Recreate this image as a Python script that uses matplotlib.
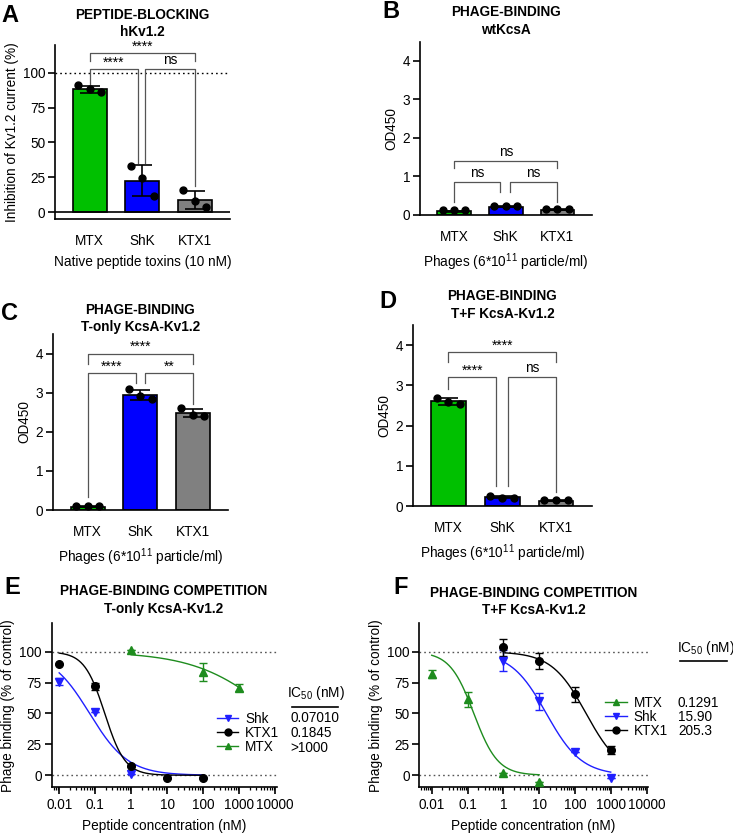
import numpy as np
import matplotlib
matplotlib.use("Agg")
import matplotlib.pyplot as plt
from matplotlib.lines import Line2D
from matplotlib.ticker import FixedLocator, LogLocator, NullFormatter

plt.rcParams["font.family"] = ["Liberation Sans", "DejaVu Sans"]
plt.rcParams["font.size"] = 9.8
plt.rcParams["axes.linewidth"] = 1.2
plt.rcParams["mathtext.fontset"] = "custom"
plt.rcParams["mathtext.rm"] = "Liberation Sans"
plt.rcParams["mathtext.it"] = "Liberation Sans:italic"
plt.rcParams["mathtext.bf"] = "Liberation Sans:bold"

W, H = 733, 834

TOXINS = ["MTX", "ShK", "KTX1"]
BAR_COLORS = ["#00c000", "#0000ff", "#808080"]

# A: peptide blocking of hKv1.2 (% inhibition)
A_MEAN = [88.2, 22.6, 8.6]
A_SD = [2.4, 11.2, 6.4]
A_POINTS = [[91.1, 88.7, 86.3], [32.9, 24.5, 11.3], [15.6, 7.7, 3.6]]

# B: phage binding, wtKcsA (OD450)
B_MEAN = [0.10, 0.22, 0.14]
B_SD = [0.01, 0.01, 0.01]
B_POINTS = [[0.12, 0.12, 0.12], [0.24, 0.24, 0.24], [0.15, 0.15, 0.15]]

# C: phage binding, T-only KcsA-Kv1.2 (OD450)
C_MEAN = [0.08, 2.95, 2.48]
C_SD = [0.01, 0.13, 0.11]
C_POINTS = [[0.10, 0.10, 0.10], [3.09, 2.92, 2.85], [2.61, 2.44, 2.41]]

# D: phage binding, T+F KcsA-Kv1.2 (OD450)
D_MEAN = [2.60, 0.22, 0.13]
D_SD = [0.09, 0.02, 0.01]
D_POINTS = [[2.69, 2.58, 2.54], [0.26, 0.21, 0.21], [0.15, 0.15, 0.15]]

CONC_TICKS = [0.01, 0.1, 1, 10, 100, 1000, 10000]
CONC_LABELS = ["0.01", "0.1", "1", "10", "100", "1000", "10000"]

# E: competition, T-only KcsA-Kv1.2 (% of control)
E_SHK_X = [0.01, 0.1, 1]
E_SHK_Y = [75.7, 51.4, 1.4]
E_SHK_ERR = [3.0, 0.0, 0.0]
E_KTX1_X = [0.01, 0.1, 1, 10, 100]
E_KTX1_Y = [90.0, 72.2, 7.3, -1.9, -1.9]
E_KTX1_ERR = [0.0, 2.8, 0.0, 0.0, 0.0]
E_MTX_X = [1, 100, 1000]
E_MTX_Y = [101.4, 83.8, 70.8]
E_MTX_ERR = [0.0, 7.4, 3.0]

# F: competition, T+F KcsA-Kv1.2 (% of control)
F_MTX_X = [0.01, 0.1, 1, 10]
F_MTX_Y = [81.9, 61.4, 1.6, -5.1]
F_MTX_ERR = [3.3, 6.2, 0.0, 0.0]
F_SHK_X = [1, 10, 100, 1000]
F_SHK_Y = [92.6, 59.8, 18.9, -1.9]
F_SHK_ERR = [8.6, 6.6, 0.0, 0.0]
F_KTX1_X = [1, 10, 100, 1000]
F_KTX1_Y = [103.7, 92.6, 65.4, 20.7]
F_KTX1_ERR = [6.8, 6.6, 6.1, 3.3]

# fitted dose-response parameters: (IC50, Hill slope, x from, x to)
E_FITS = {"Shk": (0.0701, 0.81, 0.01, 100), "KTX1": (0.1845, 1.54, 0.01, 100),
          "MTX": (9400.0, 0.40, 1, 1000)}
F_FITS = {"MTX": (0.15, 1.30, 0.01, 10), "Shk": (15.9, 0.88, 1, 1000),
          "KTX1": (205.3, 0.90, 1, 1000)}

E_IC50 = ["0.07010", "0.1845", ">1000"]
F_IC50 = ["0.1291", "15.90", "205.3"]

SERIES_STYLE = {
    "Shk": dict(color="#2020ff", marker="v"),
    "KTX1": dict(color="black", marker="o"),
    "MTX": dict(color="#1e8c1e", marker="^"),
}


def px_axes(fig, left, right, top, bottom):
    return fig.add_axes([left / W, 1 - bottom / H, (right - left) / W, (bottom - top) / H])


def fig_text(fig, x, y, s, **kw):
    fig.text(x / W, 1 - y / H, s, **kw)


def style_axes(ax):
    for side in ("top", "right"):
        ax.spines[side].set_visible(False)
    ax.tick_params(axis="y", length=5, width=1.2, pad=2)


def bracket(ax, x1, x2, y, y1, y2, label):
    ax.plot([x1, x1, x2, x2], [y1, y, y, y2], color="#555555", lw=0.9, zorder=1)
    if label == "ns":
        ax.annotate(label, ((x1 + x2) / 2, y), xytext=(0, 1.5), textcoords="offset points",
                    ha="center", va="bottom", fontsize=9.8)
    else:
        ax.annotate(label, ((x1 + x2) / 2, y), xytext=(0, -0.5), textcoords="offset points",
                    ha="center", va="bottom", fontsize=10)


def bar_panel(ax, means, sds, points, ylim, yticks, ylabel, xlabel):
    x = np.arange(len(TOXINS))
    ax.bar(x, means, width=0.65, color=BAR_COLORS, edgecolor="black", linewidth=1.2, zorder=2)
    ax.errorbar(x, means, yerr=sds, fmt="none", ecolor="black", elinewidth=1.2,
                capsize=7, capthick=1.2, zorder=3)
    for xi, pts in zip(x, points):
        ax.plot(xi + np.array([-0.22, 0.0, 0.22]), pts, "o", color="black", markersize=5, zorder=4)
    ax.set_xlim(-0.66, 2.67)
    ax.set_ylim(*ylim)
    ax.set_yticks(yticks)
    ax.set_xticks(x)
    ax.set_xticklabels(TOXINS)
    ax.tick_params(axis="x", length=0, pad=11)
    ax.set_ylabel(ylabel, labelpad=3)
    ax.set_xlabel(xlabel, labelpad=5)
    style_axes(ax)


def fit_curve(ic50, hill, x0, x1):
    xs = np.logspace(np.log10(x0), np.log10(x1), 200)
    return xs, 100.0 / (1.0 + (xs / ic50) ** hill)


def competition_panel(ax, data, fits, xlim):
    for name, (ic50, hill, x0, x1) in fits.items():
        st = SERIES_STYLE[name]
        xs, ys = fit_curve(ic50, hill, x0, x1)
        ax.plot(xs, ys, color=st["color"], lw=1.0, zorder=2)
    for name, (xv, yv, ev) in data.items():
        st = SERIES_STYLE[name]
        ax.errorbar(xv, yv, yerr=ev, fmt=st["marker"], color=st["color"], markersize=5.5,
                    elinewidth=1.0, capsize=3, capthick=1.0, zorder=3)
    for yref in (0, 100):
        ax.axhline(yref, color="#555555", lw=1.0, ls=(0, (1.2, 2.2)), zorder=1)
    ax.set_xscale("log")
    ax.set_xlim(*xlim)
    ax.set_ylim(-9.5, 123)
    ax.set_yticks([0, 25, 50, 75, 100])
    ax.xaxis.set_major_locator(FixedLocator(CONC_TICKS))
    ax.set_xticklabels(CONC_LABELS)
    ax.xaxis.set_minor_locator(LogLocator(base=10, subs=np.arange(2, 10), numticks=30))
    ax.xaxis.set_minor_formatter(NullFormatter())
    ax.tick_params(axis="x", which="major", length=5, width=1.2, pad=3)
    ax.tick_params(axis="x", which="minor", length=2.5, width=0.9)
    ax.set_ylabel("Phage binding (% of control)", labelpad=3)
    ax.set_xlabel("Peptide concentration (nM)", labelpad=5)
    style_axes(ax)


def legend_block(fig, ax, names, handle_x, mid_y, header_x, header_y, line_x0, line_x1,
                 line_y, value_x, row_ys, values):
    handles = [Line2D([], [], color=SERIES_STYLE[n]["color"], marker=SERIES_STYLE[n]["marker"],
                      markersize=5, lw=1.0) for n in names]
    ax.legend(handles, names, loc="center left", bbox_to_anchor=(handle_x / W, 1 - mid_y / H),
              bbox_transform=fig.transFigure, frameon=False, borderpad=0, borderaxespad=0,
              handlelength=1.6, handletextpad=0.5, labelspacing=0.0, fontsize=9.8)
    fig_text(fig, header_x, header_y, "IC$_{50}$ (nM)", ha="left", va="center")
    fig.add_artist(Line2D([line_x0 / W, line_x1 / W], [1 - line_y / H, 1 - line_y / H],
                          color="black", lw=1.2))
    for val, ry in zip(values, row_ys):
        fig_text(fig, value_x, ry, val, ha="left", va="center")


fig = plt.figure(figsize=(W / 100, H / 100), dpi=100)
title_kw = dict(ha="center", va="center", fontweight="bold", linespacing=1.3)
letter_kw = dict(ha="center", va="center", fontweight="bold", fontsize=17)

# A
axA = px_axes(fig, 55, 230, 45, 219)
bar_panel(axA, A_MEAN, A_SD, A_POINTS, (-5, 120), [0, 25, 50, 75, 100],
          "Inhibition of Kv1.2 current (%)", "Native peptide toxins (10 nM)")
axA.axhline(0, color="black", lw=1.2, zorder=2)
axA.axhline(100, color="black", lw=1.0, ls=(0, (1.2, 2.2)), zorder=1)
bracket(axA, 0, 2, 114.5, 108.5, 108.5, "****")
bracket(axA, 0, 0.91, 102.4, 92, 35, "****")
bracket(axA, 1.05, 2, 102.4, 35, 18.5, "ns")
fig_text(fig, 142.5, 23.5, "PEPTIDE-BLOCKING\nhKv1.2", **title_kw)
fig_text(fig, 10, 15, "A", **letter_kw)

phage_label = "Phages (6*10$^{11}$ particle/ml)"

# B
axB = px_axes(fig, 420, 592, 41.7, 215)
bar_panel(axB, B_MEAN, B_SD, B_POINTS, (0, 4.5), [0, 1, 2, 3, 4], "OD450", phage_label)
bracket(axB, 0, 2, 1.41, 1.21, 1.21, "ns")
bracket(axB, 0, 0.88, 0.865, 0.35, 0.6, "ns")
bracket(axB, 1.08, 2, 0.865, 0.6, 0.35, "ns")
fig_text(fig, 506, 21, "PHAGE-BINDING\nwtKcsA", **title_kw)
fig_text(fig, 391, 11.5, "B", **letter_kw)

# C
axC = px_axes(fig, 53, 228, 334, 510)
bar_panel(axC, C_MEAN, C_SD, C_POINTS, (0, 4.5), [0, 1, 2, 3, 4], "OD450", phage_label)
bracket(axC, 0, 2, 4.0, 3.73, 3.73, "****")
bracket(axC, 0, 0.92, 3.5, 0.34, 3.25, "****")
bracket(axC, 1.1, 2, 3.5, 3.25, 2.72, "**")
fig_text(fig, 140.5, 318.5, "PHAGE-BINDING\nT-only KcsA-Kv1.2", **title_kw)
fig_text(fig, 10, 313, "C", **letter_kw)

# D
axD = px_axes(fig, 413, 592, 325, 506)
bar_panel(axD, D_MEAN, D_SD, D_POINTS, (0, 4.5), [0, 1, 2, 3, 4], "OD450", phage_label)
bracket(axD, 0, 2, 3.82, 3.57, 3.57, "****")
bracket(axD, 0, 0.88, 3.21, 2.92, 0.5, "****")
bracket(axD, 1.1, 2, 3.21, 0.5, 0.36, "ns")
fig_text(fig, 502.5, 305, "PHAGE-BINDING\nT+F KcsA-Kv1.2", **title_kw)
fig_text(fig, 388, 302, "D", **letter_kw)

# E
axE = px_axes(fig, 51.7, 276.7, 623.3, 787)
competition_panel(axE, {"Shk": (E_SHK_X, E_SHK_Y, E_SHK_ERR),
                        "KTX1": (E_KTX1_X, E_KTX1_Y, E_KTX1_ERR),
                        "MTX": (E_MTX_X, E_MTX_Y, E_MTX_ERR)},
                  E_FITS, (0.0062, 11000))
legend_block(fig, axE, ["Shk", "KTX1", "MTX"], 216.7, 733, 286.7, 693.3, 291.7, 338.3, 707.3,
             290.7, [718.3, 733.3, 748.3], E_IC50)
fig_text(fig, 164, 600, "PHAGE-BINDING COMPETITION\nT-only KcsA-Kv1.2", **title_kw)
fig_text(fig, 12, 587, "E", **letter_kw)

# F
axF = px_axes(fig, 419.3, 648, 623.3, 787)
competition_panel(axF, {"MTX": (F_MTX_X, F_MTX_Y, F_MTX_ERR),
                        "Shk": (F_SHK_X, F_SHK_Y, F_SHK_ERR),
                        "KTX1": (F_KTX1_X, F_KTX1_Y, F_KTX1_ERR)},
                  F_FITS, (0.0045, 11000))
legend_block(fig, axF, ["MTX", "Shk", "KTX1"], 605, 716.7, 676.7, 648, 680, 726.7, 660.7,
             678, [702.7, 716.7, 730.7], F_IC50)
fig_text(fig, 533.5, 601.5, "PHAGE-BINDING COMPETITION\nT+F KcsA-Kv1.2", **title_kw)
fig_text(fig, 401, 587, "F", **letter_kw)

fig.savefig("out.png", dpi=100)
